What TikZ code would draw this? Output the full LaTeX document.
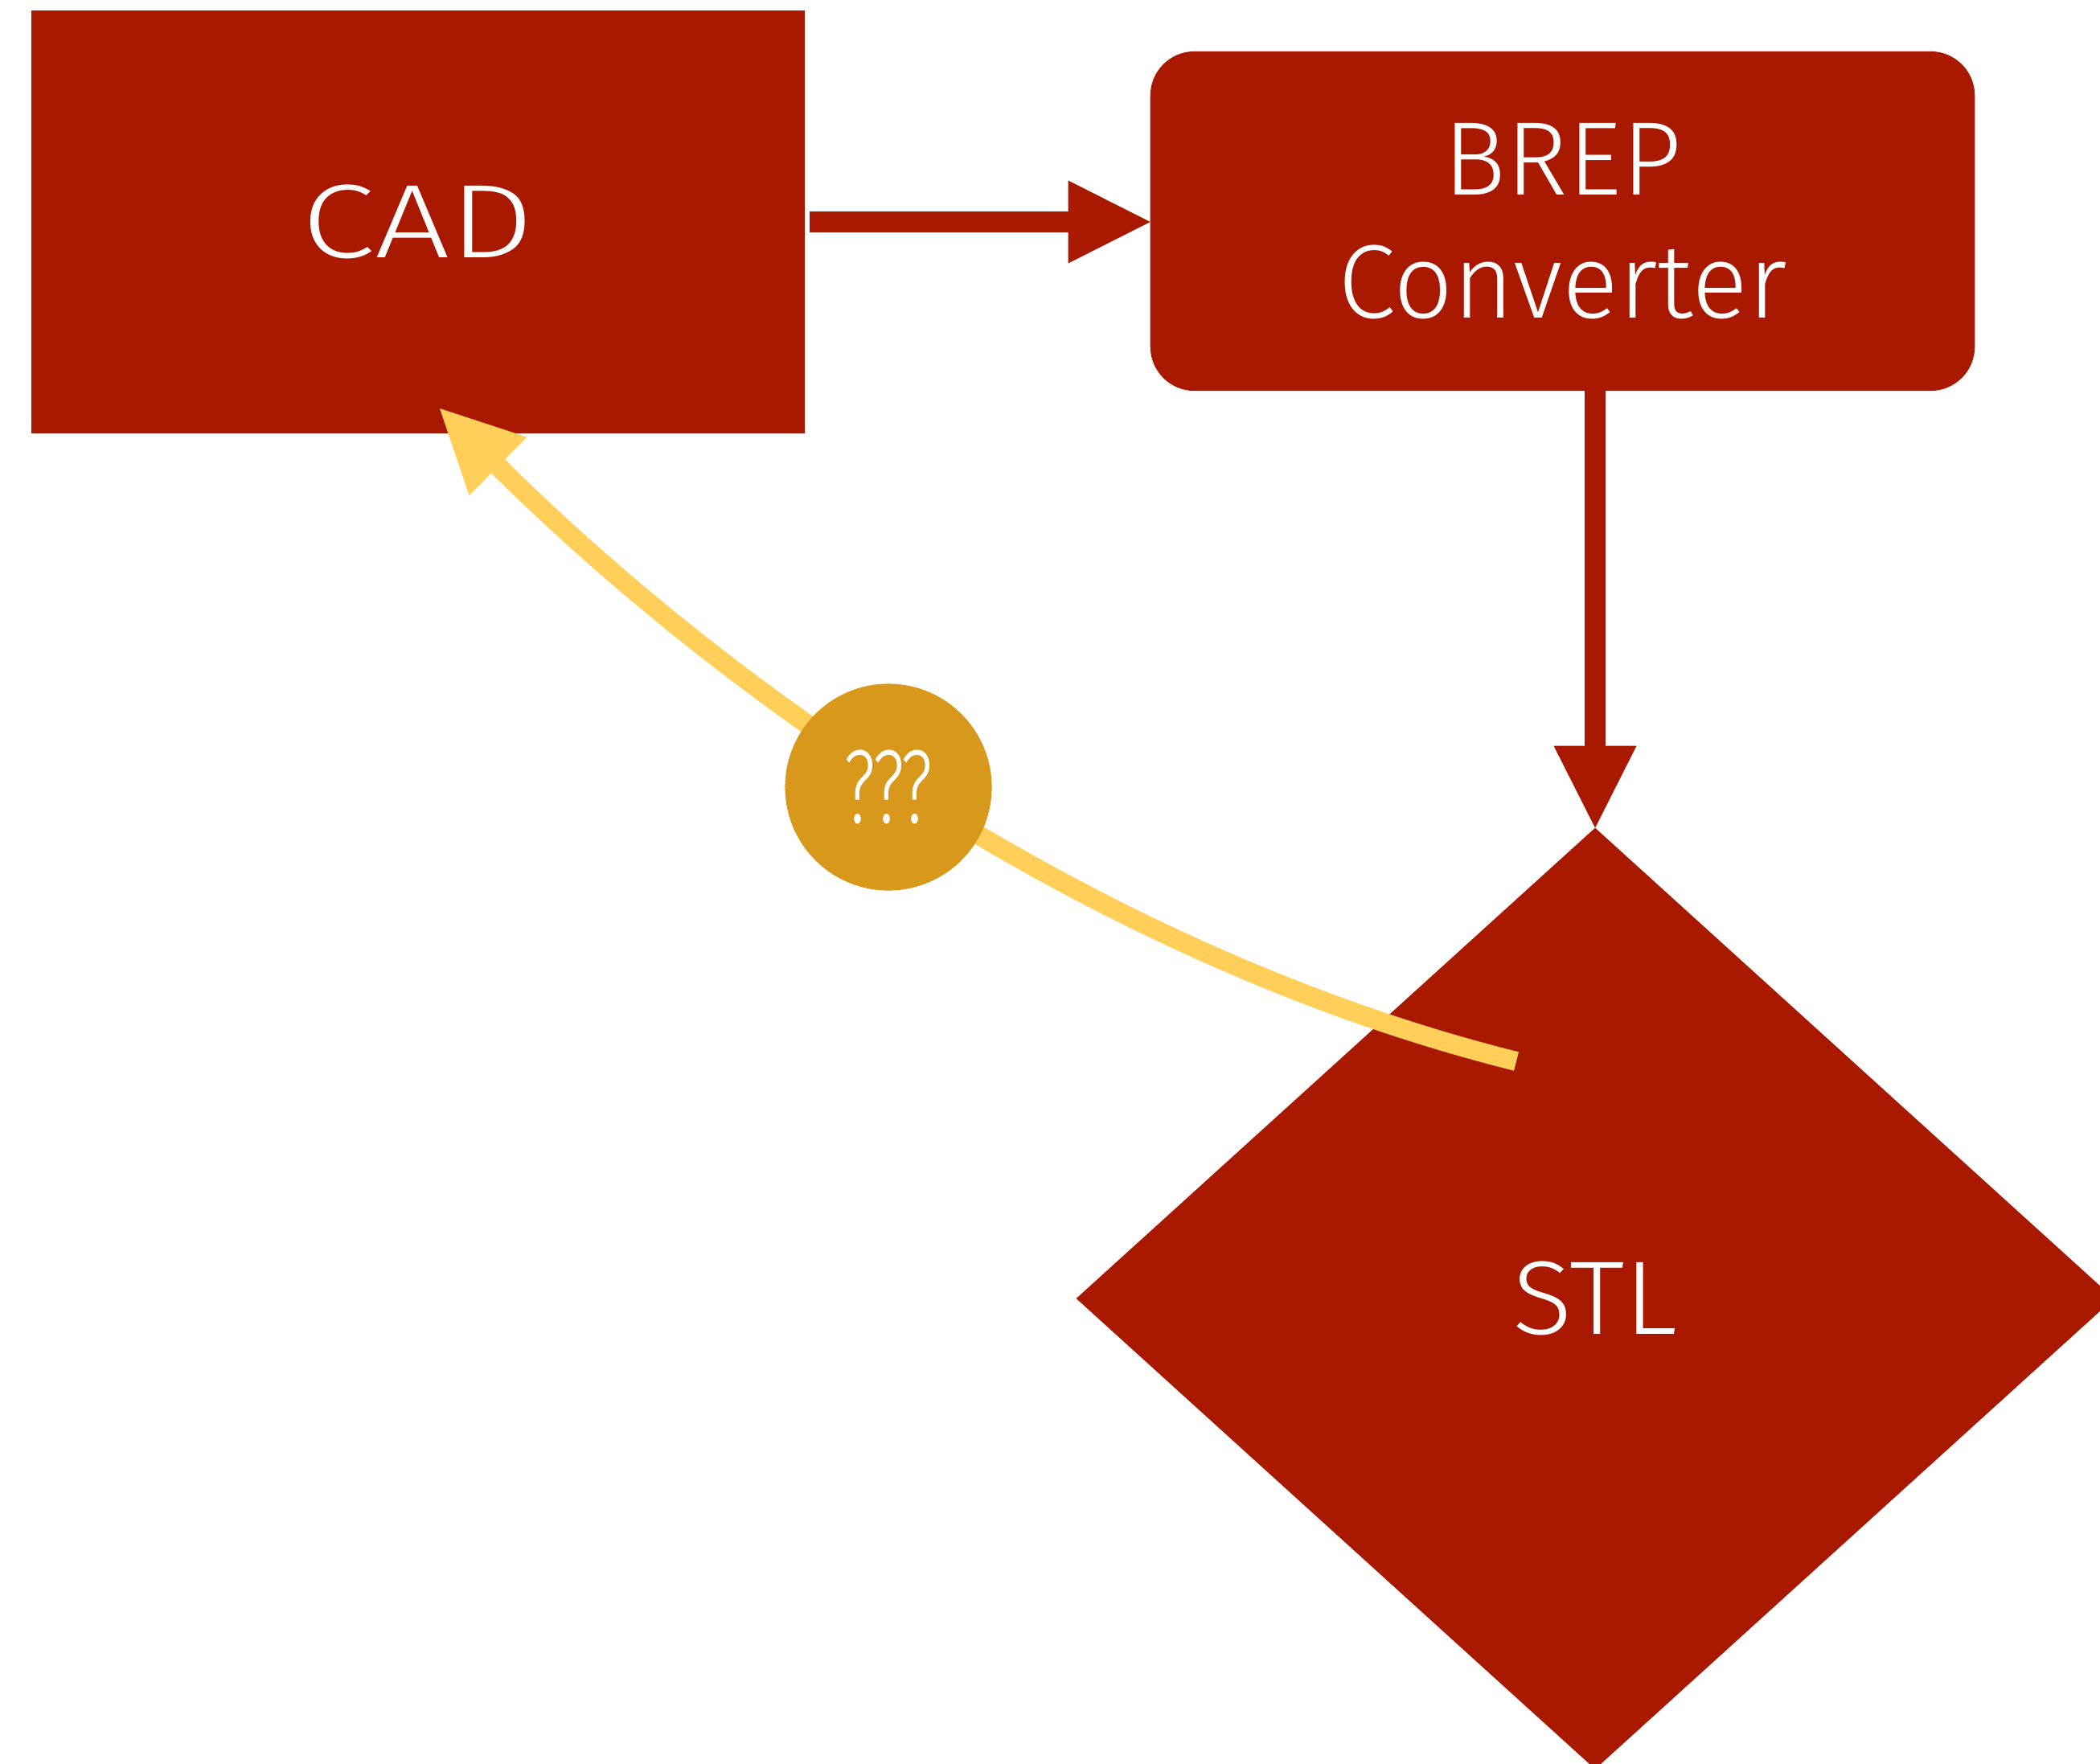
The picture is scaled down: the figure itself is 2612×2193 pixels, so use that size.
\documentclass[tikz,border=0pt]{standalone}
\usepackage{fontspec}
\setmainfont{Fira Sans Light}
\usetikzlibrary{arrows.meta,shapes.geometric}
\definecolor{brick}{RGB}{169,24,0}
\definecolor{gold}{RGB}{216,152,28}
\definecolor{sun}{RGB}{255,207,90}
\tikzset{
  box/.style={fill=brick, text=white, inner sep=0pt, outer sep=0pt,
    font=\fontsize{37}{43.5}\selectfont, align=center},
  cadbox/.style={box, rectangle, minimum width=9.62cm, minimum height=5.26cm},
  brepbox/.style={box, rectangle, rounded corners=0.55cm, minimum width=10.25cm, minimum height=4.22cm},
  stlbox/.style={box, diamond, minimum width=12.9cm, minimum height=11.7cm},
  qbubble/.style={circle, fill=gold, text=white, inner sep=0pt, outer sep=0pt,
    minimum size=2.57cm, font=\fontsize{37}{43.5}\selectfont},
  redarrow/.style={draw=brick, line width=0.26cm,
    -{Triangle[length=1.02cm, width=1.03cm, line width=0pt]}},
  yellowarrow/.style={draw=sun, line width=0.24cm,
    -{Triangle[length=1.02cm, width=1.02cm, line width=0pt]}}
}
\begin{document}
\begin{tikzpicture}[x=0.01cm, y=-0.01cm]
\useasboundingbox (0,0) rectangle (2612,2193);
\node[cadbox] (cad) at (520,276) {\scalebox{1.27}[1]{CAD}};
\node[brepbox] (brep) at (1943.5,275) {BREP\\Converter};
\node[stlbox] (stl) at (1984,1615) {\scalebox{1.06}[1]{STL}};
\coordinate (ystart) at (1886,1320);
\coordinate (ytip) at (547,508);
\draw[redarrow, shorten <=0.06cm] (cad.east) -- (cad.east -| brep.west);
\draw[redarrow] (stl.north |- brep.south) -- (stl.north);
\draw[yellowarrow] (ystart) .. controls (1377,1193) and (912,870) .. (ytip);
\node[qbubble] (q) at (1105,979) {\scalebox{0.68}[1]{???}};
\end{tikzpicture}
\end{document}
